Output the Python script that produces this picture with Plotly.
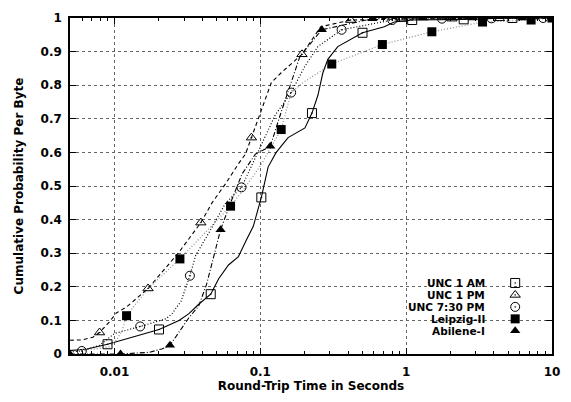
import plotly.graph_objects as go

# ---------------- data ----------------
# UNC 1 AM (solid line, open squares)
am_x = [0.00494, 0.0065, 0.00895, 0.0108, 0.0132, 0.0202, 0.0277, 0.0324, 0.0378, 0.0457,
        0.0518, 0.0605, 0.0708, 0.0804, 0.0895, 0.1016, 0.1132, 0.1285, 0.155, 0.2023,
        0.226, 0.2483, 0.2685, 0.2904, 0.3396, 0.502, 0.708, 0.828, 1.1, 2.48, 5.35, 10]
am_y = [0.010, 0.015, 0.029, 0.040, 0.050, 0.073, 0.100, 0.120, 0.148, 0.178,
        0.224, 0.265, 0.290, 0.340, 0.380, 0.466, 0.557, 0.600, 0.644, 0.673,
        0.717, 0.770, 0.837, 0.877, 0.915, 0.956, 0.974, 0.988, 0.994, 0.996, 1.0, 1.0]
am_mx = [0.00896, 0.0202, 0.0457, 0.1016, 0.226, 0.502, 1.1, 2.48, 5.35]
am_my = [0.029, 0.073, 0.178, 0.466, 0.717, 0.956, 0.994, 0.996, 1.0]

# UNC 1 PM (dashed line, open triangles)
pm_x = [0.00494, 0.0060, 0.0071, 0.0079, 0.0092, 0.0103, 0.0121, 0.0170, 0.0277, 0.0391,
        0.0465, 0.0578, 0.0708, 0.0791, 0.0869, 0.119, 0.139, 0.193, 0.26, 0.416, 0.94, 10]
pm_y = [0.041, 0.042, 0.050, 0.064, 0.095, 0.122, 0.140, 0.195, 0.303, 0.391,
        0.449, 0.507, 0.566, 0.595, 0.644, 0.808, 0.837, 0.892, 0.974, 0.994, 0.997, 1.0]
pm_mx = [0.0079, 0.0170, 0.0391, 0.0869, 0.193, 0.416, 0.94, 2.06, 4.36]
pm_my = [0.064, 0.195, 0.391, 0.644, 0.892, 0.994, 0.997, 0.998, 0.999]

# UNC 7:30 PM (dotted line, open circles)
ev_x = [0.00494, 0.00597, 0.0079, 0.0100, 0.0150, 0.0226, 0.0248, 0.0286, 0.0329, 0.0361,
        0.0443, 0.0578, 0.0743, 0.1265, 0.1626, 0.2023, 0.2483, 0.361, 0.803, 1.76, 10]
ev_y = [0.006, 0.009, 0.026, 0.061, 0.082, 0.105, 0.120, 0.157, 0.233, 0.294,
        0.360, 0.449, 0.496, 0.711, 0.778, 0.857, 0.915, 0.965, 0.994, 0.998, 1.0]
ev_mx = [0.00597, 0.0150, 0.0329, 0.0743, 0.1626, 0.361, 0.803, 1.76, 3.85, 8.69]
ev_my = [0.009, 0.082, 0.233, 0.496, 0.778, 0.965, 0.994, 0.998, 0.999, 1.0]

# Leipzig-II (grey dotted line, filled squares)
lp_x = [0.00494, 0.0075, 0.0092, 0.0103, 0.0113, 0.0121, 0.0170, 0.0281, 0.0625, 0.080,
        0.100, 0.117, 0.139, 0.1626, 0.200, 0.309, 0.687, 1.50, 3.34, 7.19, 10]
lp_y = [0.012, 0.015, 0.022, 0.041, 0.070, 0.114, 0.195, 0.283, 0.440, 0.500,
        0.560, 0.610, 0.668, 0.778, 0.810, 0.863, 0.921, 0.959, 0.988, 0.994, 1.0]
lp_mx = [0.0121, 0.0281, 0.0625, 0.139, 0.309, 0.687, 1.50, 3.34, 7.19, 10]
lp_my = [0.114, 0.283, 0.440, 0.668, 0.863, 0.921, 0.959, 0.988, 0.994, 1.0]

# Abilene-I (dash-dot line, filled triangles)
ab_x = [0.00494, 0.011, 0.0173, 0.0211, 0.0240, 0.0324, 0.0378, 0.0428, 0.0534, 0.0625,
        0.075, 0.0925, 0.117, 0.139, 0.187, 0.264, 0.587, 1.31, 10]
ab_y = [0.0, 0.0, 0.005, 0.015, 0.026, 0.108, 0.143, 0.207, 0.370, 0.450,
        0.536, 0.595, 0.618, 0.720, 0.886, 0.965, 0.998, 1.0, 1.0]
ab_mx = [0.00494, 0.011, 0.0240, 0.0534, 0.117, 0.264, 0.587, 1.31, 2.86, 6.25]
ab_my = [0.0, 0.0, 0.026, 0.370, 0.618, 0.965, 0.998, 1.0, 1.0, 1.0]

series_names = ["UNC 1 AM", "UNC 1 PM", "UNC 7:30 PM", "Leipzig-II", "Abilene-I"]
x_tickvals = [0.01, 0.1, 1, 10]
x_ticktext = ["0.01", "0.1", "1", "10"]
x_minor = [0.005, 0.006, 0.007, 0.008, 0.009,
           0.02, 0.03, 0.04, 0.05, 0.06, 0.07, 0.08, 0.09,
           0.2, 0.3, 0.4, 0.5, 0.6, 0.7, 0.8, 0.9,
           2, 3, 4, 5, 6, 7, 8, 9]

# ---------------- styling ----------------
FONT = "DejaVu Sans"
series = [
    (am_x, am_y, am_mx, am_my, dict(color="black", width=1.1, dash="solid"),
     dict(symbol="square-open-dot", size=9, color="black", line=dict(width=1))),
    (pm_x, pm_y, pm_mx, pm_my, dict(color="black", width=1.1, dash="4px,3px"),
     dict(symbol="triangle-up-open-dot", size=9, color="black", line=dict(width=1))),
    (ev_x, ev_y, ev_mx, ev_my, dict(color="black", width=1.2, dash="1px,2px"),
     dict(symbol="circle-open-dot", size=9, color="black", line=dict(width=1))),
    (lp_x, lp_y, lp_mx, lp_my, dict(color="#8c8c8c", width=1.2, dash="1px,2px"),
     dict(symbol="square", size=9, color="black", line=dict(width=0))),
    (ab_x, ab_y, ab_mx, ab_my, dict(color="black", width=1.1, dash="5px,2px,1px,2px"),
     dict(symbol="triangle-up", size=9, color="black", line=dict(width=0))),
]

fig = go.Figure()
for (lx, ly, mx, my, lstyle, mstyle) in series:
    fig.add_trace(go.Scatter(x=lx, y=ly, mode="lines", line=lstyle,
                             showlegend=False, hoverinfo="skip"))
for (lx, ly, mx, my, lstyle, mstyle), name in zip(series, series_names):
    fig.add_trace(go.Scatter(x=mx, y=my, mode="markers", marker=mstyle,
                             name=name, showlegend=False))

# manual legend (text right-aligned, symbol to the right)
leg_text_x = 0.8627
leg_mark_x = 0.9236
leg_rows = [0.2114, 0.1758, 0.1402, 0.1046, 0.0690]
for (lx, ly, mx, my, lstyle, mstyle), name, ry in zip(series, series_names, leg_rows):
    fig.add_annotation(x=leg_text_x, y=ry, xref="paper", yref="paper", text=name,
                       showarrow=False, xanchor="right", yanchor="middle", borderpad=0,
                       font=dict(family=FONT, size=10.5, color="black", weight="bold"))
    fig.add_trace(go.Scatter(x=[leg_mark_x], y=[ry], mode="markers", marker=mstyle,
                             xaxis="x2", yaxis="y2", showlegend=False, hoverinfo="skip"))

axis_common = dict(
    showline=True, linecolor="black", linewidth=1.5, mirror="allticks",
    ticks="inside", ticklen=6, tickwidth=1, tickcolor="black",
    showgrid=True, gridcolor="#666666", gridwidth=1, griddash="dot",
    zeroline=False,
    tickfont=dict(family=FONT, size=12, color="black", weight="bold"),
)

fig.update_layout(
    width=571, height=402,
    margin=dict(l=70, r=13, t=11, b=48),
    paper_bgcolor="white", plot_bgcolor="white",
    showlegend=False,
    xaxis=dict(type="log", range=[-2.305, 1.0], tickmode="array",
               tickvals=x_tickvals, ticktext=x_ticktext,
               minor=dict(tickvals=x_minor, ticks="inside", ticklen=3,
                          tickcolor="black", showgrid=False),
               ticklabelstandoff=6,
               title=dict(text="Round-Trip Time in Seconds", standoff=3,
                          font=dict(family=FONT, size=12, color="black", weight="bold")),
               **axis_common),
    yaxis=dict(range=[0, 1], tick0=0, dtick=0.1, ticklabelstandoff=4,
               title=dict(text="Cumulative Probability Per Byte", standoff=14,
                          font=dict(family=FONT, size=12, color="black", weight="bold")),
               **axis_common),
    xaxis2=dict(overlaying="x", range=[0, 1], visible=False, fixedrange=True),
    yaxis2=dict(overlaying="y", range=[0, 1], visible=False, fixedrange=True),
)

fig.write_html("out.html")
